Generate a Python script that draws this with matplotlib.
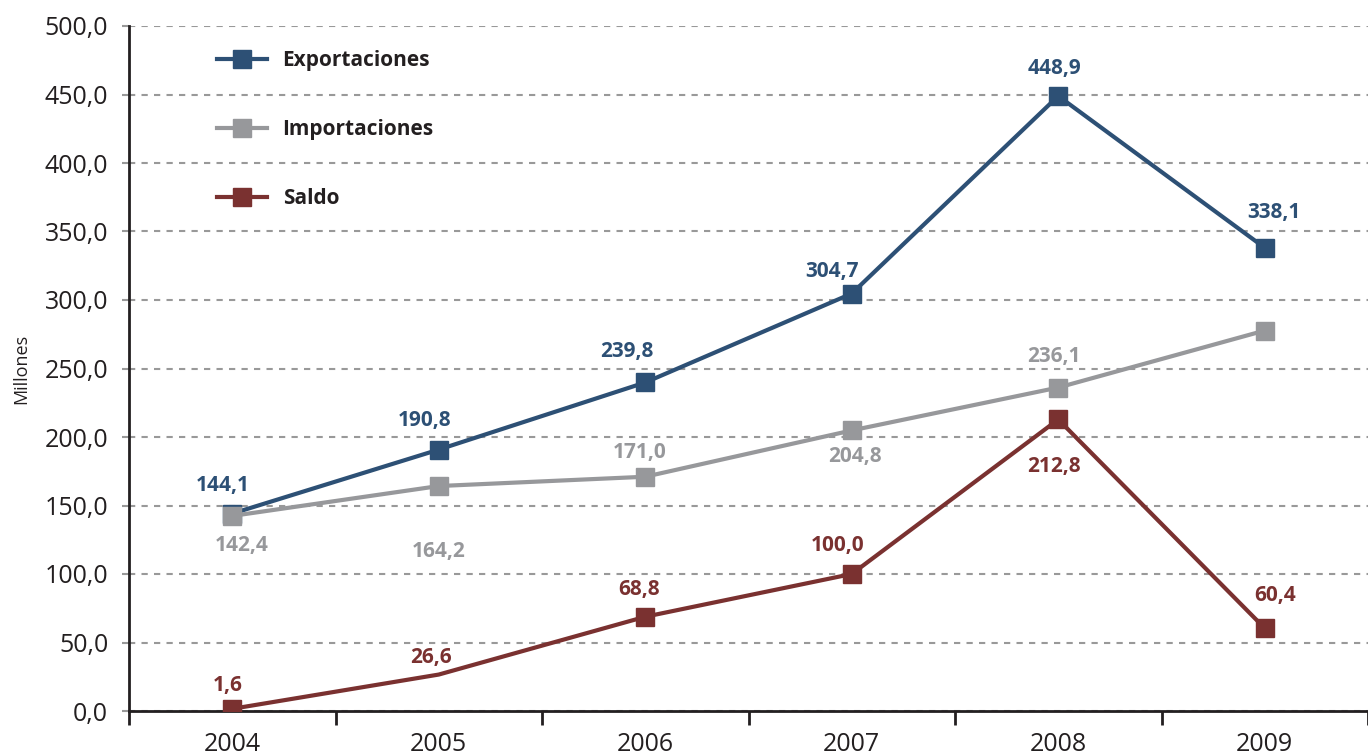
import matplotlib.pyplot as plt

plt.rcParams['font.family'] = ['Open Sans', 'DejaVu Sans']

years = ['2004', '2005', '2006', '2007', '2008', '2009']
exportaciones = [144.1, 190.8, 239.8, 304.7, 448.9, 338.1]
importaciones = [142.4, 164.2, 171.0, 204.8, 236.1, 277.7]
saldo = [1.6, 26.6, 68.8, 100.0, 212.8, 60.4]

# which points get a label (the last import has none)
imp_labeled = [True, True, True, True, True, False]

c_exp = '#2d5075'
c_imp = '#97989b'
c_sal = '#7a3130'

# label offsets in pixels (dx, dy)
off_exp = [(-9, 28), (-14, 29), (-18, 31), (-20, 22), (-4, 28), (9, 35)]
off_imp = [(9, -30), (0, -65), (-6, 24), (3, -26), (-4, 31), (0, 0)]
off_sal = [(-5, 23), (-8, 17), (-6, 27), (-14, 28), (-4, -47), (10, 33)]

fig = plt.figure(figsize=(13.68, 7.54), dpi=100)
ax = fig.add_axes([129 / 1368, 1 - 711 / 754, 1 - 129 / 1368, (711 - 26) / 754])

x = list(range(len(years)))
ax.plot(x, exportaciones, '-s', color=c_exp, lw=3, ms=13, label='Exportaciones', zorder=3)
ax.plot(x, importaciones, '-s', color=c_imp, lw=3, ms=13, label='Importaciones', zorder=3)
ax.plot(x, saldo, '-s', color=c_sal, lw=3, ms=13, label='Saldo', zorder=3,
        markevery=[0, 2, 3, 4, 5])


def fmt(v):
    return f'{v:.1f}'.replace('.', ',')


for i in x:
    ax.annotate(fmt(exportaciones[i]), (i, exportaciones[i]), xytext=off_exp[i],
                textcoords='offset pixels', ha='center', va='center',
                fontsize=15, fontweight='bold', color=c_exp)
    if imp_labeled[i]:
        ax.annotate(fmt(importaciones[i]), (i, importaciones[i]), xytext=off_imp[i],
                    textcoords='offset pixels', ha='center', va='center',
                    fontsize=15, fontweight='bold', color=c_imp)
    ax.annotate(fmt(saldo[i]), (i, saldo[i]), xytext=off_sal[i],
                textcoords='offset pixels', ha='center', va='center',
                fontsize=15, fontweight='bold', color=c_sal)

ax.set_xlim(-0.5, 5.46)
ax.set_ylim(0, 500)
ax.set_yticks(range(0, 501, 50))
ax.set_yticklabels([fmt(v) for v in range(0, 501, 50)])
ax.set_xticks(x)
ax.set_xticklabels(years)
ax.set_xticks([i + 0.5 for i in range(-1, 6)], minor=True)
ax.tick_params(axis='x', which='major', length=0, labelsize=18, pad=15, colors='#231f20')
ax.tick_params(axis='x', which='minor', length=10, width=2, direction='out', color='#231f20')
ax.tick_params(axis='y', length=5, width=1.5, color='#999999', labelsize=18, pad=10,
               labelcolor='#231f20')

ax.grid(axis='y', linestyle=(0, (3, 3)), color='#999999', lw=1.5)
for s in ['top', 'right']:
    ax.spines[s].set_visible(False)
for s in ['left', 'bottom']:
    ax.spines[s].set_color('#231f20')
    ax.spines[s].set_linewidth(2)
ax.set_axisbelow(True)

ax.set_ylabel('Millones', fontsize=13, color='#231f20')
ax.yaxis.set_label_coords(-0.08, 0.5)

leg = ax.legend(loc='upper left', bbox_to_anchor=(217 / 1368, 1 - 50 / 754),
                bbox_transform=fig.transFigure, frameon=False, borderpad=0,
                borderaxespad=0, handlelength=2.4, handletextpad=0.75,
                labelspacing=2.3, prop={'size': 15, 'weight': 'bold'})
for t in leg.get_texts():
    t.set_color('#231f20')

fig.savefig('out.png', dpi=100)
